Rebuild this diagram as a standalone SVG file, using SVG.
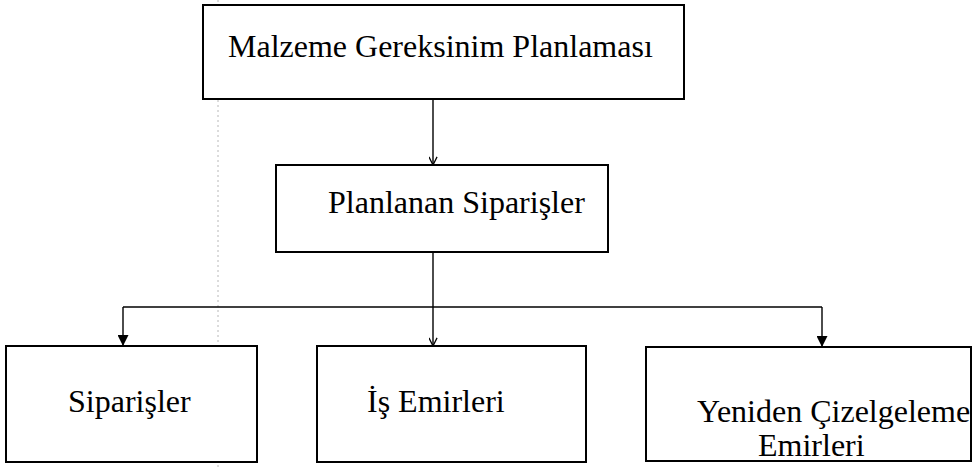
<svg xmlns="http://www.w3.org/2000/svg" width="977" height="467" viewBox="0 0 977 467">
  <style>
    .box { fill: #fff; stroke: #000; stroke-width: 2; }
    .lbl { font-family: "Liberation Serif", "Times New Roman", Times, serif; font-size: 32px; fill: #000; }
    .wire { fill: none; stroke: #000; stroke-width: 1.4; }
    .guide { stroke: #b8b8b8; stroke-width: 1; stroke-dasharray: 2 3; }
  </style>
  <defs>
    <marker id="open" viewBox="0 0 10 10" refX="10" refY="5" markerWidth="9" markerHeight="9" markerUnits="userSpaceOnUse" orient="auto">
      <path d="M1,0.5 L10,5 L1,9.5" fill="none" stroke="#000" stroke-width="1.4"/>
    </marker>
    <marker id="solid" viewBox="0 0 10 10" refX="10" refY="5" markerWidth="11" markerHeight="11" markerUnits="userSpaceOnUse" orient="auto">
      <path d="M0,0 L10,5 L0,10 Z" fill="#000"/>
    </marker>
  </defs>

  <!-- faint page guide -->
  <line class="guide" x1="218" y1="0" x2="218" y2="467"/>

  <g id="connectors">
    <line class="wire" x1="433" y1="99" x2="433" y2="165" marker-end="url(#open)"/>
    <line class="wire" x1="433" y1="252" x2="433" y2="346" marker-end="url(#open)"/>
    <polyline class="wire" points="123,307 822,307"/>
    <line class="wire" x1="123" y1="307" x2="123" y2="346" marker-end="url(#solid)"/>
    <line class="wire" x1="822" y1="307" x2="822" y2="347" marker-end="url(#solid)"/>
  </g>

  <g id="mrp">
    <rect class="box" x="203" y="5" width="481" height="94"/>
    <text class="lbl" x="228" y="57">Malzeme Gereksinim Planlaması</text>
  </g>

  <g id="planned">
    <rect class="box" x="276" y="165" width="332" height="87"/>
    <text class="lbl" x="328" y="213">Planlanan Siparişler</text>
  </g>

  <g id="orders">
    <rect class="box" x="6" y="346" width="251" height="116"/>
    <text class="lbl" x="68" y="412">Siparişler</text>
  </g>

  <g id="work-orders">
    <rect class="box" x="317" y="346" width="269" height="116"/>
    <text class="lbl" x="367" y="412">İş Emirleri</text>
  </g>

  <g id="reschedule">
    <rect class="box" x="646" y="347" width="325" height="114"/>
    <text class="lbl" x="697" y="422">Yeniden Çizelgeleme</text>
    <text class="lbl" x="758" y="456">Emirleri</text>
  </g>
</svg>
